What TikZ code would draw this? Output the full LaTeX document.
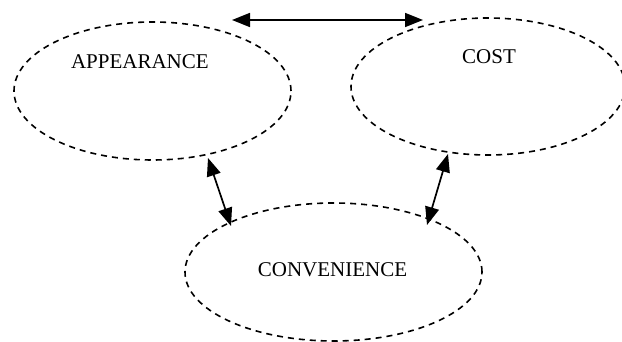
\documentclass[tikz,border=0pt]{standalone}
\usepackage{fontspec}
\setmainfont{Liberation Serif}
\usetikzlibrary{shapes.geometric,arrows.meta}

\tikzset{
  factor/.style={ellipse, draw, line width=1.6pt, dash pattern=on 6pt off 5pt,
    inner sep=0pt},
  caption/.style={font=\fontsize{21}{25}\selectfont},
  link/.style={line width=1.7pt,
    {Triangle[length=18pt,width=14pt]}-{Triangle[length=18pt,width=14pt]}},
}

\begin{document}
\begin{tikzpicture}[x=1pt,y=1pt]
  \useasboundingbox (0,0) rectangle (622,342);

  % the three factors
  \node[factor, minimum width=277pt, minimum height=138pt,
        label={[caption, shift={(-12.6,29.5)}]center:APPEARANCE}] (app) at (152.5,251) {};
  \node[factor, minimum width=274pt, minimum height=137pt,
        label={[caption, shift={(1,29.5)}]center:COST}] (cost) at (488,255.5) {};
  \node[factor, minimum width=297pt, minimum height=138pt,
        label={[caption, shift={(-1,2.5)}]center:CONVENIENCE}] (conv) at (333.5,70) {};

  % two-way links between the factors
  \draw[link] ([shift={(79.5,71)}]app.center) -- ([shift={(-65,66.5)}]cost.center);
  \draw[link] ([shift={(55.5,-67)}]app.center) -- ([shift={(-102.5,46)}]conv.center);
  \draw[link] ([shift={(-40,-67.5)}]cost.center) -- ([shift={(93.5,47)}]conv.center);
\end{tikzpicture}
\end{document}
